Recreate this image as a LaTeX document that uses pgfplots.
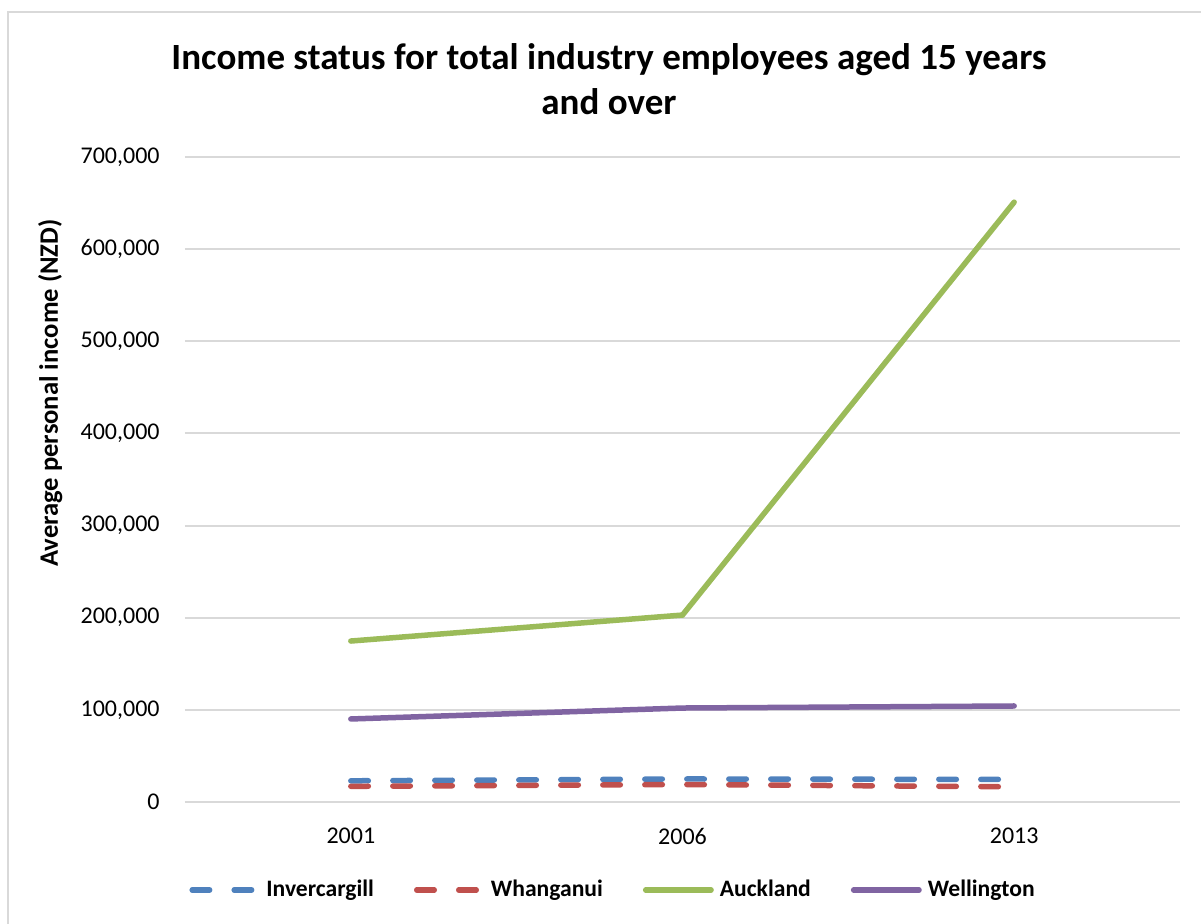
\documentclass[border=0pt]{standalone}
\usepackage{fontspec}
\setmainfont{Carlito}
\usepackage{pgfplots}
\pgfplotsset{compat=1.18}
\definecolor{cBlue}{HTML}{4F81BD}
\definecolor{cRed}{HTML}{C0504D}
\definecolor{cGreen}{HTML}{9BBB59}
\definecolor{cPurple}{HTML}{8064A2}
\definecolor{gridgray}{HTML}{D9D9D9}
\begin{document}
\begin{tikzpicture}
\useasboundingbox (-92.5pt,-60.5pt) rectangle (508pt,401pt);
\draw[gridgray, line width=1pt] (-88.5pt,-62pt) -- (-88.5pt,395pt) -- (510pt,395pt);
\begin{axis}[
  scale only axis,
  width=497.5pt, height=322.5pt,
  xmin=-0.5, xmax=2.5, ymin=0, ymax=700000,
  xtick={0,1,2}, xticklabels={2001,2006,2013},
  ytick={0,100000,200000,300000,400000,500000,600000,700000},
  ymajorgrids,
  major grid style={draw=gridgray, line width=1pt},
  axis line style={draw=none},
  major tick length=0pt,
  scaled y ticks=false,
  /pgf/number format/fixed,
  /pgf/number format/1000 sep={,},
  /pgf/number format/assume math mode=true,
  tick label style={font=\fontsize{12}{14}\selectfont, text=black, inner sep=0pt},
  xticklabel style={anchor=north, yshift=-13pt},
  yticklabel style={anchor=east, xshift=-12.5pt},
  legend columns=4,
  legend cell align=left,
  legend style={at={(0.004,-0.1364)}, anchor=west, draw=none, fill=none, inner sep=0pt,
    font=\bfseries\fontsize{11.8}{14}\selectfont,
    nodes={inner sep=0pt},
    /tikz/every odd column/.append style={column sep=2.5pt},
    /tikz/every even column/.append style={column sep=20pt}},
  legend image code/.code={\path[draw=none, fill=none] (0pt,-3pt) rectangle (36pt,3pt); \draw[#1] (1.4pt,0pt) -- (34.1pt,0pt);},
]
\addplot[cBlue, line width=2.75pt, line cap=round, dash pattern=on 8.75pt off 12.25pt, mark=none]
  coordinates {(0,23000) (1,25000) (2,24500)};
\addlegendentry{Invercargill}
\addplot[cRed, line width=2.75pt, line cap=round, dash pattern=on 8.75pt off 12.25pt, mark=none]
  coordinates {(0,17000) (1,19000) (2,16500)};
\addlegendentry{Whanganui}
\addplot[cGreen, line width=2.75pt, line cap=round, mark=none]
  coordinates {(0,174700) (1,202900) (2,651000)};
\addlegendentry{Auckland}
\addplot[cPurple, line width=2.75pt, line cap=round, mark=none]
  coordinates {(0,90100) (1,102000) (2,104200)};
\addlegendentry{Wellington}
\end{axis}
\node[font=\bfseries\fontsize{18.5}{22}\selectfont, anchor=base] at (212pt,366pt) {Income status for total industry employees aged 15 years};
\node[font=\bfseries\fontsize{18.5}{22}\selectfont, anchor=base] at (212pt,343.5pt) {and over};
\node[rotate=90, anchor=base, font=\bfseries\fontsize{13.3}{16}\selectfont] at (-63.5pt,204.5pt) {Average personal income (NZD)};
\end{tikzpicture}
\end{document}
